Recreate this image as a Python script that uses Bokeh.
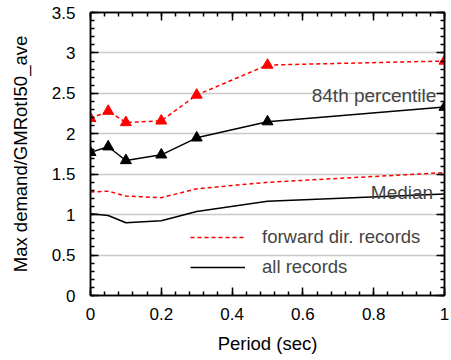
from bokeh.plotting import figure
from bokeh.models import LinearAxis, Range1d, Legend, LegendItem, SingleIntervalTicker, Label, CustomJSTickFormatter
from bokeh.embed import file_html
from bokeh.resources import INLINE

# Data
periods = [0, 0.05, 0.1, 0.2, 0.3, 0.5, 1.0]
p84_forward = [2.19, 2.28, 2.14, 2.16, 2.48, 2.85, 2.90]
p84_all = [1.77, 1.84, 1.67, 1.74, 1.95, 2.15, 2.33]
median_forward = [1.28, 1.29, 1.23, 1.21, 1.32, 1.40, 1.52]
median_all = [1.01, 0.99, 0.90, 0.925, 1.04, 1.165, 1.255]
legend_labels = ["forward dir. records", "all records"]

FONT = "Liberation Sans"

p = figure(width=451, height=360, output_backend="svg", toolbar_location=None,
           x_range=Range1d(0, 1), y_range=Range1d(0, 3.5),
           min_border_left=90, min_border_right=7, min_border_top=12, min_border_bottom=65)

p.outline_line_color = "black"
p.outline_line_width = 1.5
p.xgrid.grid_line_color = None
p.ygrid.grid_line_color = "#c8c8c8"
p.ygrid.grid_line_width = 1.5
p.background_fill_color = "white"
p.border_fill_color = "white"

r1 = p.line(periods, p84_forward, line_color="red", line_dash="4 3", line_width=1.5)
p.scatter(periods, p84_forward, marker="triangle", size=11, fill_color="red", line_color="red")
r2 = p.line(periods, p84_all, line_color="black", line_width=1.5)
p.scatter(periods, p84_all, marker="triangle", size=11, fill_color="black", line_color="black")
p.line(periods, median_forward, line_color="red", line_dash="4 3", line_width=1.5)
p.line(periods, median_all, line_color="black", line_width=1.5)

def style_axis(ax, show_labels=True):
    ax.axis_line_color = "black"
    ax.axis_line_width = 1.5
    ax.major_tick_in = 8
    ax.major_tick_out = 0
    ax.minor_tick_in = 4
    ax.minor_tick_out = 0
    ax.major_tick_line_color = "black"
    ax.minor_tick_line_color = "black"
    ax.major_tick_line_width = 1.5
    ax.minor_tick_line_width = 1.5
    if show_labels:
        ax.major_label_text_font = FONT
        ax.major_label_text_font_size = "17px"
        ax.major_label_text_color = "black"
        ax.axis_label_text_font = FONT
        ax.axis_label_text_font_size = "18.5px"
        ax.axis_label_text_font_style = "normal"
        ax.axis_label_text_color = "black"
    else:
        ax.formatter = CustomJSTickFormatter(code="return '';")
        ax.major_label_standoff = 0

p.xaxis.ticker = SingleIntervalTicker(interval=0.2, num_minor_ticks=5)
p.yaxis.ticker = SingleIntervalTicker(interval=0.5, num_minor_ticks=5)
style_axis(p.xaxis[0])
style_axis(p.yaxis[0])
p.xaxis.axis_label = "Period (sec)"
p.yaxis.axis_label = "Max demand/GMRotI50_ave"
p.xaxis.major_label_standoff = 12
p.yaxis.major_label_standoff = 15
p.xaxis.axis_label_standoff = 10
p.yaxis.axis_label_standoff = 18

top = LinearAxis(ticker=SingleIntervalTicker(interval=0.2, num_minor_ticks=5))
right = LinearAxis(ticker=SingleIntervalTicker(interval=0.5, num_minor_ticks=5))
style_axis(top, False)
style_axis(right, False)
p.add_layout(top, "above")
p.add_layout(right, "right")

legend = Legend(items=[LegendItem(label=legend_labels[0], renderers=[r1]),
                       LegendItem(label=legend_labels[1], renderers=[r2])],
                location=(100, 13), border_line_color=None, background_fill_alpha=0,
                padding=0, margin=0, spacing=0, glyph_width=55, glyph_height=30,
                label_height=30, label_standoff=17,
                label_text_font=FONT, label_text_font_size="18.5px")
p.add_layout(legend)

p.add_layout(Label(x=0.977, y=2.47, text="84th percentile", text_align="right",
                   text_baseline="alphabetic", text_font=FONT, text_font_size="19px"))
p.add_layout(Label(x=0.968, y=1.27, text="Median", text_align="right",
                   text_baseline="alphabetic", text_font=FONT, text_font_size="19px"))

open("out.html", "w").write(file_html(p, INLINE))
